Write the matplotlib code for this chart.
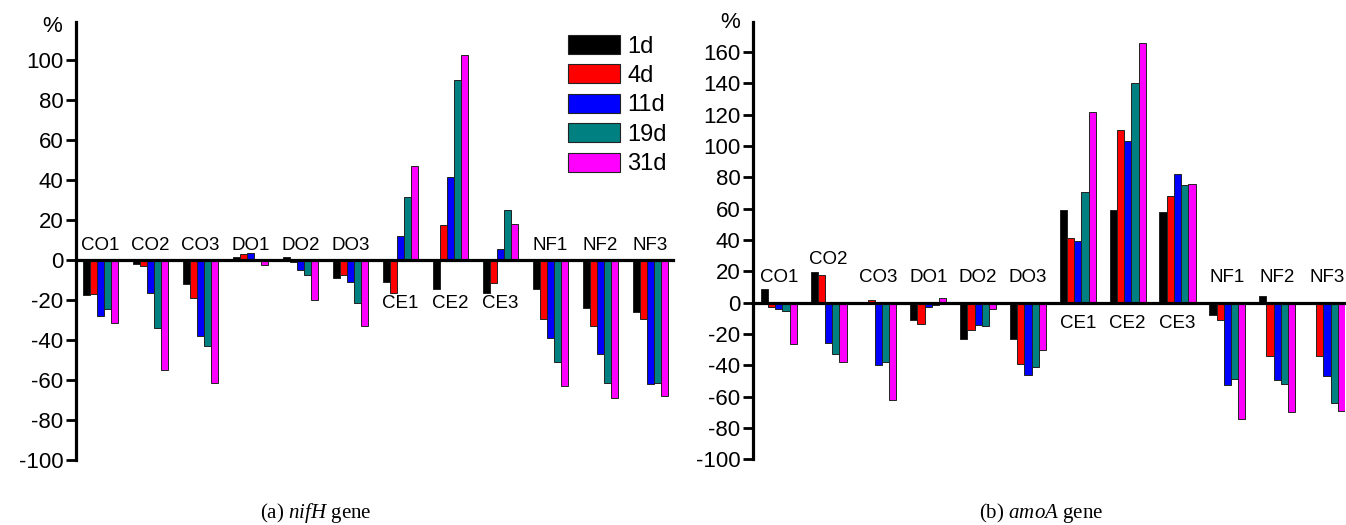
import matplotlib
matplotlib.use("Agg")
import matplotlib.pyplot as plt
from matplotlib.patches import Patch
import numpy as np

plt.rcParams['font.family'] = ['Liberation Sans', 'DejaVu Sans']
plt.rcParams['mathtext.fontset'] = 'custom'
plt.rcParams['mathtext.rm'] = 'Liberation Serif'
plt.rcParams['mathtext.it'] = 'Liberation Serif:italic'

categories = ["CO1", "CO2", "CO3", "DO1", "DO2", "DO3",
              "CE1", "CE2", "CE3", "NF1", "NF2", "NF3"]
series_names = ["1d", "4d", "11d", "19d", "31d"]
series_colors = ["#000000", "#FF0000", "#0000FF", "#008080", "#FF00FF"]

# (a) nifH gene, % change per category, one list per time point
nifH_1d  = [-17.5, -2.0, -12.0, 1.5, 1.5, -9.0, -11.0, -14.5, -16.5, -14.5, -24.0, -26.0]
nifH_4d  = [-17.0, -3.0, -19.0, 3.0, -1.0, -7.5, -16.5, 17.5, -11.5, -29.5, -33.0, -29.5]
nifH_11d = [-28.0, -16.5, -38.0, 3.5, -5.0, -11.0, 12.0, 41.5, 5.5, -39.0, -47.0, -62.0]
nifH_19d = [-24.5, -34.0, -43.0, 0.0, -7.5, -21.5, 31.5, 90.0, 25.0, -51.0, -61.5, -61.5]
nifH_31d = [-31.5, -55.0, -61.5, -2.5, -20.0, -33.0, 47.0, 102.5, 18.0, -63.0, -69.0, -68.0]

# (b) amoA gene
amoA_1d  = [8.5, 19.5, 0.0, -11.0, -23.0, -23.0, 59.0, 59.0, 58.0, -8.0, 4.5, 0.0]
amoA_4d  = [-2.5, 17.5, 2.0, -13.5, -17.5, -39.0, 41.0, 110.0, 68.0, -11.0, -34.0, -34.0]
amoA_11d = [-4.0, -25.5, -40.0, -3.0, -14.0, -46.0, 39.5, 103.5, 82.0, -52.5, -49.5, -46.5]
amoA_19d = [-5.0, -32.5, -38.0, -1.5, -15.0, -41.0, 70.5, 140.0, 75.0, -49.0, -52.0, -64.0]
amoA_31d = [-26.5, -38.0, -62.0, 3.0, -4.0, -30.0, 122.0, 166.0, 75.5, -74.5, -70.0, -69.0]

nifH_ticks = [-100, -80, -60, -40, -20, 0, 20, 40, 60, 80, 100]
amoA_ticks = [-100, -80, -60, -40, -20, 0, 20, 40, 60, 80, 100, 120, 140, 160]

W, H = 1346, 525
fig = plt.figure(figsize=(W / 100, H / 100), dpi=100)


def px_axes(x0, x1, y_top, y_bot):
    return fig.add_axes([x0 / W, 1 - y_bot / H, (x1 - x0) / W, (y_bot - y_top) / H])


def draw_panel(ax, data, ticks, ylim, xlim, bw, above_y, below_y, special_y,
               pct_xy):
    x = np.arange(len(categories))
    for k, (vals, col) in enumerate(zip(data, series_colors)):
        ax.bar(x + (k - 2) * bw, vals, width=bw, color=col,
               edgecolor="#222222", linewidth=0.7, zorder=2)
    ax.set_xlim(*xlim)
    ax.set_ylim(*ylim)
    ax.set_yticks(ticks)
    ax.set_yticklabels([str(t) for t in ticks])
    ax.set_xticks([])
    for s in ["top", "right"]:
        ax.spines[s].set_visible(False)
    ax.spines["bottom"].set_position(("data", 0))
    ax.spines["bottom"].set_linewidth(2.3)
    ax.spines["bottom"].set_zorder(3)
    ax.spines["left"].set_linewidth(2.3)
    ax.tick_params(axis="y", direction="out", length=7, width=2.0,
                   labelsize=16, pad=2)
    for i, c in enumerate(categories):
        if c.startswith("CE"):
            yy = below_y
        elif c in special_y:
            yy = special_y[c]
        else:
            yy = above_y
        ax.text(i, yy, c, ha="center", va="center", fontsize=13.5)
    fig.text(pct_xy[0] / W, 1 - pct_xy[1] / H, "%", ha="center", va="center",
             fontsize=16)


# left panel
axL = px_axes(76, 673, 22, 459.5)
draw_panel(axL, [nifH_1d, nifH_4d, nifH_11d, nifH_19d, nifH_31d], nifH_ticks,
           (-100, 118.75), (-0.49, 11.45), 0.14, 7.2, -22.0, {}, (52, 26))

handles = [Patch(facecolor=c, edgecolor="#222222", linewidth=0.8) for c in series_colors]
leg = axL.legend(handles, series_names, loc="upper right",
                 bbox_to_anchor=((667 - 76) / (673 - 76), (459.5 - 35) / (459.5 - 22)),
                 frameon=False, fontsize=17, handlelength=2.2, handleheight=0.85,
                 handletextpad=0.3, labelspacing=0.29, borderpad=0, borderaxespad=0)
fig.canvas.draw()
texts = leg.get_texts()
shift = max(t.get_window_extent().width for t in texts)
for t in texts:
    t.set_ha("right")
    t.set_position((shift, 0))
fig.canvas.draw()
right = max(t.get_window_extent().x1 for t in texts)
delta = right - 667
for t in texts:
    t.set_position((shift - delta, 0))

# right panel
axR = px_axes(753, 1345, 22, 459.3)
draw_panel(axR, [amoA_1d, amoA_4d, amoA_11d, amoA_19d, amoA_31d], amoA_ticks,
           (-100, 179.2), (-0.516, 11.36), 0.145, 15.8, -13.6, {"CO2": 27.3},
           (730, 23))

fig.text(316 / W, 1 - 513 / H, r"(a) $\it{nifH}$ gene", ha="center", va="center",
         fontsize=15, family="Liberation Serif")
fig.text(1041 / W, 1 - 513 / H, r"(b) $\it{amoA}$ gene", ha="center", va="center",
         fontsize=15, family="Liberation Serif")

fig.savefig("out.png", dpi=100)
